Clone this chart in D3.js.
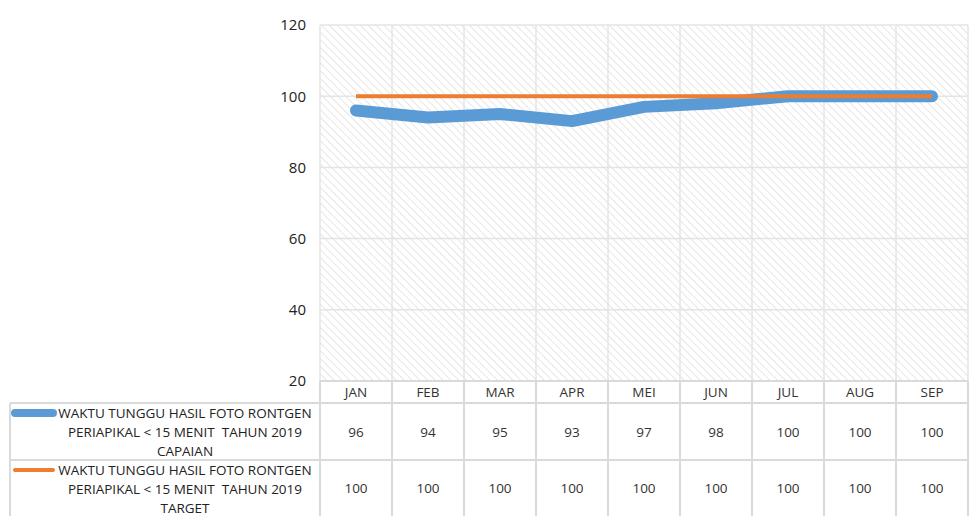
<!DOCTYPE html>
<html><head><meta charset="utf-8">
<script src="https://cdn.jsdelivr.net/npm/d3@7"></script>
<style>body{margin:0;background:#fff}svg{display:block;font-family:"Open Sans",Lato,sans-serif}text{white-space:pre}</style>
</head><body>
<svg id="c" width="969" height="516"></svg>
<script>
const months = ["JAN","FEB","MAR","APR","MEI","JUN","JUL","AUG","SEP"];
const capaian = [96,94,95,93,97,98,100,100,100];
const target = [100,100,100,100,100,100,100,100,100];
const yTicks = [20,40,60,80,100,120];
const seriesNames = [
  ["WAKTU TUNGGU HASIL FOTO RONTGEN","PERIAPIKAL < 15 MENIT  TAHUN 2019","CAPAIAN"],
  ["WAKTU TUNGGU HASIL FOTO RONTGEN","PERIAPIKAL < 15 MENIT  TAHUN 2019","TARGET"]
];
const colors = ["#5b9bd5","#ed7d31"];
const widths = [12,4];

const svg = d3.select("#c");
const L=320,R=968,T=25,B=381;
const x = d3.scaleBand().domain(months).range([L,R]);
const y = d3.scaleLinear().domain([20,120]).range([B,T]);

const defs = svg.append("defs");
const pat = defs.append("pattern").attr("id","hatch").attr("patternUnits","userSpaceOnUse")
  .attr("width",5.5).attr("height",5.5).attr("patternTransform","rotate(-45)");
pat.append("rect").attr("width",5.5).attr("height",5.5).attr("fill","#fff");
pat.append("line").attr("x1",0).attr("y1",0).attr("x2",0).attr("y2",5.5).attr("stroke","#dcdcdc").attr("stroke-width",1.4);

svg.append("rect").attr("x",L).attr("y",T).attr("width",R-L).attr("height",B-T).attr("fill","url(#hatch)");

// gridlines
const g = svg.append("g");
g.selectAll("line.h").data(yTicks).join("line")
  .attr("x1",L).attr("x2",R).attr("y1",d=>y(d)).attr("y2",d=>y(d))
  .attr("stroke","#e4e4e4").attr("stroke-width",1.5);
const bounds = months.map(m=>x(m)).concat([R]);
g.selectAll("line.v").data(bounds).join("line")
  .attr("x1",d=>d).attr("x2",d=>d).attr("y1",T).attr("y2",B)
  .attr("stroke","#e4e4e4").attr("stroke-width",1.5);

// y axis labels
const yAxis = d3.axisLeft(y).tickValues(yTicks).tickSize(0).tickPadding(14);
const ya = svg.append("g").attr("transform",`translate(${L},0)`).call(yAxis);
ya.select(".domain").remove();
ya.selectAll("text").attr("font-size",15).attr("fill","#222").attr("font-family","'Open Sans',sans-serif");

// lines
const line = d3.line().x((d,i)=>x(months[i])+x.bandwidth()/2).y(d=>y(d));
[capaian,target].forEach((s,k)=>{
  svg.append("path").datum(s).attr("d",line).attr("fill","none")
    .attr("stroke",colors[k]).attr("stroke-width",widths[k])
    .attr("stroke-linecap",k===0?"round":"butt").attr("stroke-linejoin","round");
});

// data table
const gridC = "#dadada";
const rowH = [B,403,460,516];
const tbl = svg.append("g");
tbl.append("line").attr("x1",10).attr("x2",R).attr("y1",rowH[1]).attr("y2",rowH[1]);
tbl.append("line").attr("x1",10).attr("x2",R).attr("y1",rowH[2]).attr("y2",rowH[2]);
tbl.append("line").attr("x1",L).attr("x2",R).attr("y1",B).attr("y2",B);
tbl.append("line").attr("x1",10).attr("x2",10).attr("y1",rowH[1]).attr("y2",516);
tbl.selectAll("line.cv").data(bounds).join("line")
  .attr("x1",d=>d).attr("x2",d=>d).attr("y1",B).attr("y2",516);
tbl.selectAll("line").attr("stroke",gridC).attr("stroke-width",2);

svg.append("g").selectAll("text").data(months).join("text")
  .attr("x",d=>x(d)+x.bandwidth()/2).attr("y",397).attr("text-anchor","middle")
  .attr("font-size",13.5).attr("fill","#333").text(d=>d);

[capaian,target].forEach((s,k)=>{
  const cy = (rowH[k+1]+rowH[k+2])/2 + 5;
  svg.append("g").selectAll("text").data(s).join("text")
    .attr("x",(d,i)=>x(months[i])+x.bandwidth()/2).attr("y",cy).attr("text-anchor","middle")
    .attr("font-size",13.5).attr("fill","#333").text(d=>d);
  const top = rowH[k+1];
  svg.append("line").attr("x1",15).attr("x2",53).attr("y1",top+10).attr("y2",top+10)
    .attr("stroke",colors[k]).attr("stroke-width",k===0?8:4).attr("stroke-linecap","round");
  seriesNames[k].forEach((t,j)=>{
    svg.append("text").attr("x",185).attr("y",top+15+j*19).attr("text-anchor","middle")
      .attr("font-size",13.5).attr("fill","#222").text(t);
  });
});
</script>
</body></html>
